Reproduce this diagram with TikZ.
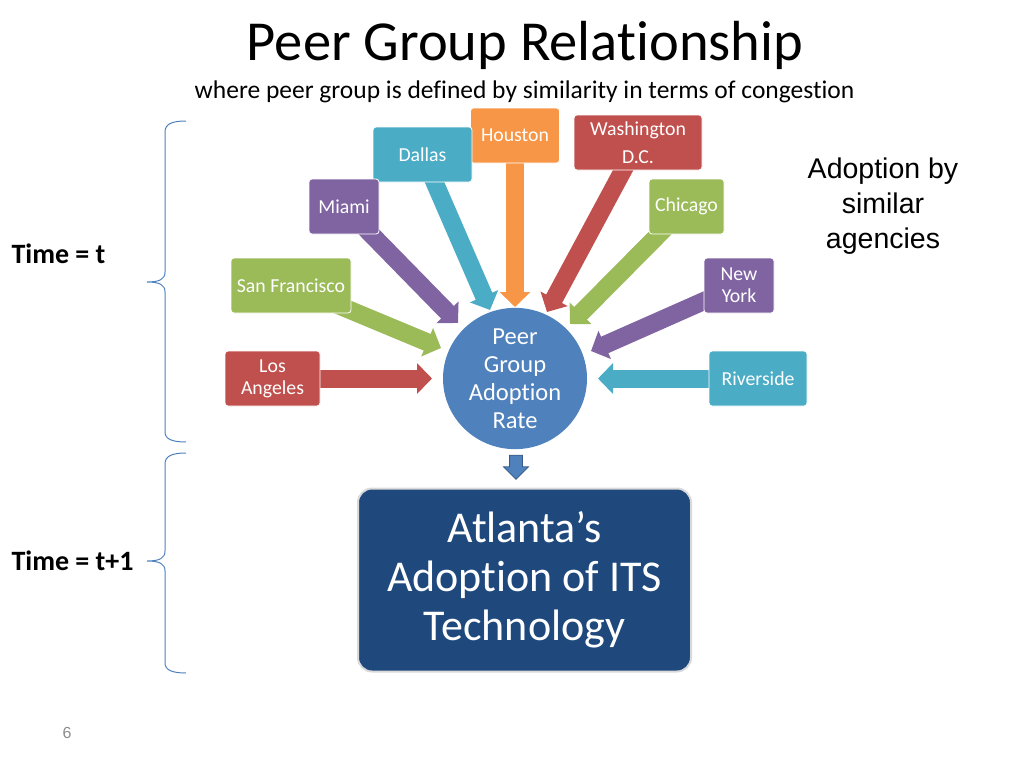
\documentclass[tikz,border=0pt]{standalone}
\usepackage{fontspec}
\setmainfont{Carlito}[Ligatures=NoCommon]
\newfontfamily\arialf{Liberation Sans}
\usetikzlibrary{arrows.meta,shapes.geometric,shapes.arrows}
\definecolor{cred}{HTML}{C0504D}
\definecolor{corange}{HTML}{F79646}
\definecolor{ccyan}{HTML}{4BACC6}
\definecolor{cpurple}{HTML}{8064A2}
\definecolor{cgreen}{HTML}{9BBB59}
\definecolor{cblue}{HTML}{4F81BD}
\definecolor{cdark}{HTML}{1F497D}
\definecolor{cdarkborder}{HTML}{385D8A}
\pgfdeclarelayer{background}
\pgfsetlayers{background,main}
\tikzset{
  city/.style={rectangle, rounded corners=3pt, fill=#1, draw=white, line width=0.8pt,
    text=white, align=center, inner sep=0pt, font=\fontsize{19.8}{22}\selectfont},
  bigarrow/.style={line width=18pt, draw=#1, -{Triangle[width=30pt,length=15pt]}},
  bracestyle/.style={draw=cblue, line width=1pt},
}
\begin{document}
\begin{tikzpicture}[x=1pt,y=-1pt]
\useasboundingbox (0,0) rectangle (1024,768);
% titles
\node (title) at (525,45) {\fontsize{56.5}{60}\selectfont Peer Group Relationship};
\node (subtitle) at (524.5,92) {\fontsize{25.5}{28}\selectfont where peer group is defined by similarity in terms of congestion};
% city boxes
\node[city=corange, minimum width=89pt, minimum height=55pt] (hou) at (515,135.5) {Houston};
\node[city=ccyan, minimum width=99pt, minimum height=55pt] (dal) at (422.5,154.5) {Dallas};
\node[city=cred, minimum width=128pt, minimum height=55pt, font=\fontsize{19.8}{28}\selectfont] (was) at (638,142.5) {Washington\\D.C.};
\node[city=cpurple, minimum width=70pt, minimum height=55pt] (mia) at (344,206.5) {Miami};
\node[city=cgreen, minimum width=75pt, minimum height=55pt] (chi) at (686.5,206.5) {Chicago};
\node[city=cgreen, minimum width=120pt, minimum height=55pt] (sf) at (291,285.5) {San Francisco};
\node[city=cpurple, minimum width=70pt, minimum height=55pt] (ny) at (739,285.5) {New\\York};
\node[city=cred, minimum width=95pt, minimum height=55pt] (la) at (272.5,378.5) {Los\\Angeles};
\node[city=ccyan, minimum width=98pt, minimum height=55pt] (riv) at (758,378.5) {Riverside};
% peer ellipse
\node[ellipse, fill=cblue, minimum width=144pt, minimum height=117pt, inner sep=0pt,
  text=white, align=center, font=\fontsize{24.5}{28}\selectfont] (peer) at (515,378.5) {Peer\\Group\\Adoption\\Rate};
% arrow tips
\coordinate (tla) at (432,378.5);
\coordinate (triv) at (598,378.5);
\coordinate (tsf) at (441,348);
\coordinate (tmia) at (458,323);
\coordinate (tdal) at (490,310);
\coordinate (thou) at (515,307);
\coordinate (twas) at (547,312);
\coordinate (tchi) at (570,324);
\coordinate (tny) at (591,351);
\begin{pgfonlayer}{background}
\draw[bigarrow=cred] (la.center) -- (tla);
\draw[bigarrow=ccyan] (riv.center) -- (triv);
\draw[bigarrow=cgreen] (sf.center) -- (tsf);
\draw[bigarrow=cpurple] (mia.center) -- (tmia);
\draw[bigarrow=ccyan] (dal.center) -- (tdal);
\draw[bigarrow=corange] (hou.center) -- (thou);
\draw[bigarrow=cred] (was.center) -- (twas);
\draw[bigarrow=cgreen] (chi.center) -- (tchi);
\draw[bigarrow=cpurple] (ny.center) -- (tny);
\end{pgfonlayer}
% down arrow
\node[single arrow, draw=cdarkborder, fill=cblue, line width=0.8pt, rotate=-90,
  minimum height=24pt, inner sep=6pt, single arrow head extend=6pt] (down) at (516,464) {};
% Atlanta box
\node[rectangle, rounded corners=14pt, fill=cdark, draw=white!85!black, line width=2pt,
  minimum width=333pt, minimum height=183pt, text=white, align=center,
  font=\fontsize{44}{49}\selectfont] (atl) at (524.5,580) {Atlanta’s\\Adoption of ITS\\Technology};
% side text
\node[align=center, font=\arialf\fontsize{28.5}{35}\selectfont] (adopt) at (883,206) {Adoption by\\similar\\agencies};
\node[anchor=west, font=\bfseries\fontsize{28}{30}\selectfont] (tt) at (8,254) {Time = t};
\node[anchor=west, font=\bfseries\fontsize{28}{30}\selectfont] (tt1) at (8,561) {Time = t+1};
% braces
\draw[bracestyle] (186,121) .. controls (172,121) and (165,124) .. (165,132) -- (165,272)
  .. controls (165,279) and (160,282) .. (147,282)
  .. controls (160,282) and (165,285) .. (165,292) -- (165,432)
  .. controls (165,439) and (172,442) .. (186,442);
\draw[bracestyle] (186,453) .. controls (172,453) and (165,456) .. (165,464) -- (165,551)
  .. controls (165,558) and (160,561) .. (147,561)
  .. controls (160,561) and (165,564) .. (165,571) -- (165,663)
  .. controls (165,670) and (172,673) .. (186,673);
% page number
\node[text=black!45, font=\arialf\fontsize{16}{18}\selectfont] (pg) at (67,733) {6};
\end{tikzpicture}
\end{document}
